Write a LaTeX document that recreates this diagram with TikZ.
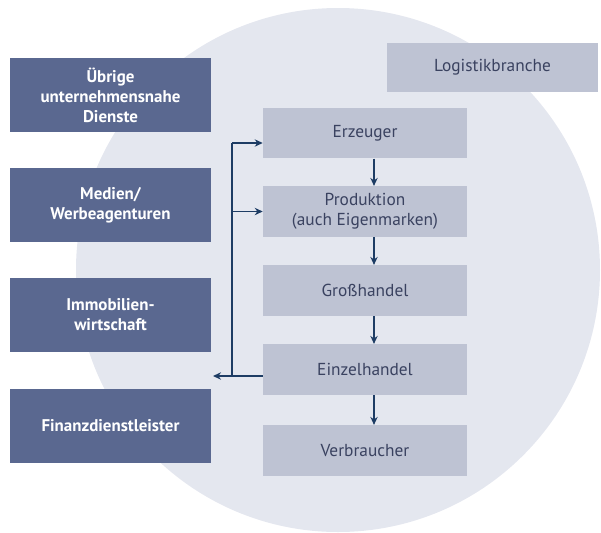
\documentclass[tikz,border=0pt]{standalone}
\usepackage{fontspec}
\setmainfont{PT Sans}
\usetikzlibrary{arrows.meta}
\definecolor{kreis}{HTML}{E4E7EF}
\definecolor{dunkel}{HTML}{5A6890}
\definecolor{hell}{HTML}{BEC3D3}
\definecolor{schrift}{HTML}{3A4260}
\definecolor{linie}{HTML}{1D3C64}

\begin{document}
\begin{tikzpicture}[x=0.75pt, y=-0.75pt, >={Stealth[length=6pt,width=5.5pt]},
  dienst/.style={fill=dunkel, text=white, font=\bfseries\fontsize{12.7}{15}\selectfont,
    minimum width=150.75pt, minimum height=55.5pt, align=center, inner sep=0pt},
  stufe/.style={fill=hell, text=schrift, font=\fontsize{13}{15}\selectfont,
    minimum width=153pt, minimum height=38pt, align=center, inner sep=0pt},
  pfeil/.style={->, draw=linie, line width=1.1pt}]
\useasboundingbox (0,0) rectangle (601,533);
% --- Hintergrund ---
\fill[kreis] (338,270) circle (196.5pt);
% --- Dienstleister links ---
\node[dienst] (uebrige) at (110.5,95) {Übrige\\unternehmensnahe\\Dienste};
\node[dienst] (medien) at (110.5,205) {Medien/\\Werbeagenturen};
\node[dienst] (immo) at (110.5,315) {Immobilien-\\wirtschaft};
\node[dienst] (finanz) at (110.5,425.5) {Finanzdienstleister};
% --- Wertschoepfungskette ---
\node[stufe, minimum width=158.25pt, minimum height=37pt] (logistik) at (492.5,67.5) {Logistikbranche};
\node[stufe] (erz) at (365,133) {Erzeuger};
\node[stufe] (prod) at (365,211.5) {Produktion\\(auch Eigenmarken)};
\node[stufe] (gross) at (365,290.5) {Großhandel};
\node[stufe] (einzel) at (365,369.5) {Einzelhandel};
\node[stufe] (verb) at (365,450.5) {Verbraucher};
\foreach \a/\b in {erz/prod,prod/gross,gross/einzel,einzel/verb}
  {\draw[pfeil] ([xshift=6.75pt]\a.south) -- ([xshift=6.75pt]\b.north);}
% --- Rueckkopplung ---
\coordinate (oben) at (232,143);
\coordinate (unten) at (232,376);
\coordinate (ziel) at (213,376);
\draw[linie, line width=1.1pt] (unten) -- (oben);
\draw[pfeil] (oben) -- (oben -| erz.west);
\draw[pfeil] (oben |- prod) -- (prod.west);
\draw[pfeil] (einzel.west |- ziel) -- (ziel);
\end{tikzpicture}
\end{document}
